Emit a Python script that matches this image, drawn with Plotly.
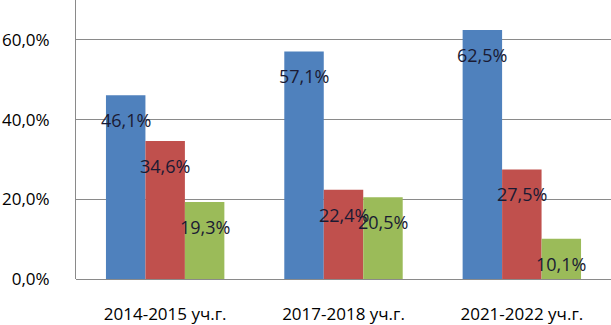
import plotly.graph_objects as go

categories = ["2014-2015 уч.г.", "2017-2018 уч.г.", "2021-2022 уч.г."]
series_a = [0.461, 0.571, 0.625]
series_b = [0.346, 0.224, 0.275]
series_c = [0.193, 0.205, 0.101]
colors = ["#4F81BD", "#C0504D", "#9BBB59"]
tick_vals = [0.0, 0.2, 0.4, 0.6]

series = [series_a, series_b, series_c]

fig = go.Figure()
for vals, col in zip(series, colors):
    fig.add_bar(x=categories, y=vals, marker=dict(color=col, line=dict(width=0)),
                showlegend=False, hoverinfo="skip")

font_family = "Open Sans, Liberation Sans, sans-serif"
bar_px = 39.6
annotations = []
for i, vals in enumerate(series):
    for cat, v in zip(categories, vals):
        txt = ("%.1f%%" % (v * 100)).replace(".", ",")
        annotations.append(dict(x=cat, y=v, xref="x", yref="y", text=txt, showarrow=False,
                                xshift=(i - 1) * bar_px, yshift=-25,
                                font=dict(family=font_family, size=18, color="#1a1a33")))

fig.update_layout(
    width=611, height=325,
    margin=dict(l=76, r=0, t=0, b=46),
    paper_bgcolor="white", plot_bgcolor="white",
    barmode="group", bargap=0.336, bargroupgap=0,
    separators=", ",
    annotations=annotations,
    xaxis=dict(showgrid=False, showline=False, ticks="", ticklabelstandoff=23,
               automargin=False,
               tickfont=dict(family=font_family, size=17, color="#000000")),
    yaxis=dict(range=[0, 0.7], tickvals=tick_vals, tickformat=".1%",
               showgrid=True, gridcolor="#8a8a8a", gridwidth=1,
               showline=True, linecolor="#8a8a8a", linewidth=1,
               zeroline=True, zerolinecolor="#8a8a8a", zerolinewidth=1,
               ticks="", ticklabelstandoff=22, automargin=False,
               tickfont=dict(family=font_family, size=17, color="#000000")),
)
fig.write_html("out.html", config={"displayModeBar": False},
               post_script="document.body.style.margin='0';document.body.style.overflow='hidden';")
